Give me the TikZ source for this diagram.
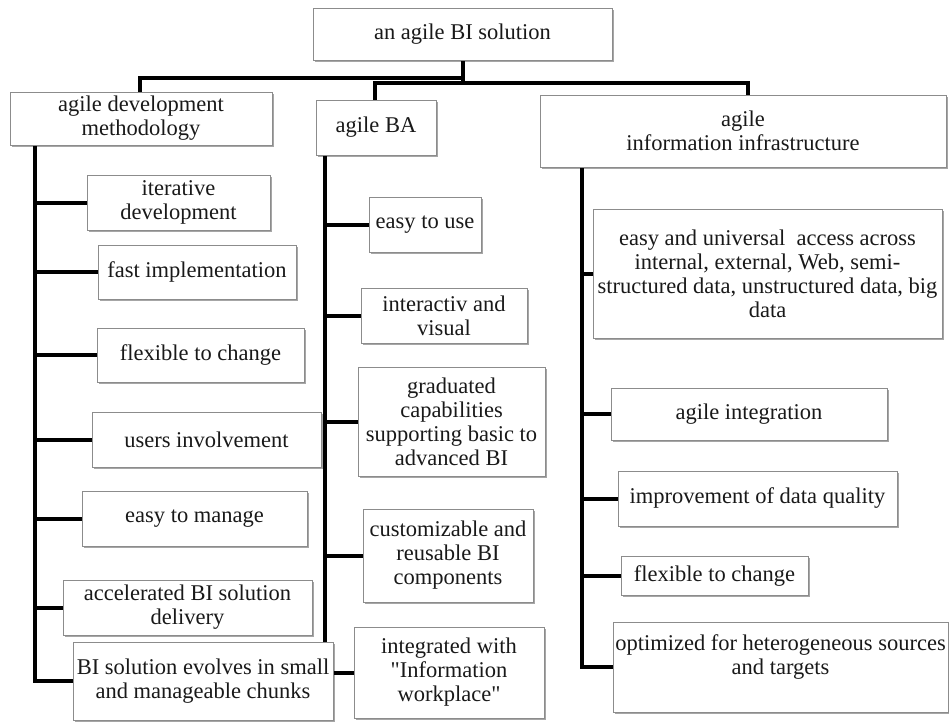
\documentclass[tikz,border=0pt]{standalone}
\usepackage{fontspec}
\setmainfont{Liberation Serif}[Ligatures=TeXOff]
\usetikzlibrary{shadows,backgrounds}
\newcommand\mybox[6]{\node[box,minimum width={#3-#2},minimum height={#5-#4}] (#1) at ({(#2+#3)/2},{(#4+#5)/2}) {#6};}
\begin{document}
\begin{tikzpicture}[x=1pt,y=-1pt,
  txt/.style={inner sep=0pt, align=center, font=\fontsize{22.5}{24}\selectfont, text=black!90},
  box/.style={txt, draw=black!45, line width=0.8pt, fill=white,
    drop shadow={shadow xshift=2pt, shadow yshift=-2pt, opacity=0.35, fill=black}},
  conn/.style={line width=4pt, line join=miter}]
\useasboundingbox (0,0) rectangle (949,722);
% level 0 and 1
\mybox{top}{313}{612}{8}{60}{an agile BI solution}
\mybox{ldm}{10}{272}{92}{145}{agile development\\methodology}
\mybox{ba}{316}{436}{100}{155}{agile BA}
\mybox{inf}{540}{946}{95}{167}{agile\\information infrastructure}
% left column
\mybox{l1}{87}{270}{175}{230}{iterative\\development}
\mybox{l2}{98}{296}{245}{299}{fast implementation}
\mybox{l3}{97}{304}{328}{382}{flexible to change}
\mybox{l4}{92}{321}{412}{467}{users involvement}
\mybox{l5}{82}{307}{491}{546}{easy to manage}
\mybox{l6}{63}{312}{580}{635}{accelerated BI solution\\delivery}
% middle column
\mybox{m1}{369}{481}{197}{252}{easy to use}
\mybox{m2}{361}{527}{288}{343}{interactiv and\\visual}
\mybox{m3}{358}{545}{367}{476}{graduated\\capabilities\\supporting basic to\\advanced BI}
\mybox{m4}{363}{533}{509}{602}{customizable and\\reusable BI\\components}
\mybox{m5}{354}{544}{627}{718}{integrated with\\"Information\\workplace"}
\mybox{l7}{73}{333}{642}{720}{BI solution evolves in small\\and manageable chunks}
% right column
\mybox{r1}{593}{942}{209}{338}{easy and universal\ \ access across\\internal, external, Web, semi-\\structured data, unstructured data, big\\data}
\mybox{r2}{611}{887}{388}{440}{agile integration}
\mybox{r3}{618}{897}{471}{526}{improvement of data quality}
\mybox{r4}{621}{808}{556}{595}{flexible to change}
\mybox{r5}{613}{948}{622}{712}{}
\node[txt] (r5t) at ([yshift=10pt]r5.center) {optimized for heterogeneous sources\\and targets};
% connectors
\begin{scope}[on background layer]
\coordinate (b1) at (462.5,78);
\coordinate (b2) at (462.5,83);
\draw[conn] (top.south) -- (b2);
\draw[conn] (b1) -| ([xshift=130pt]ldm.north west);
\draw[conn] ([xshift=59pt]ba.north west) |- (b2) -| ([xshift=208pt]inf.north west);
\foreach \c in {l1,l2,l3,l4,l5,l6,l7}
  \draw[conn] ([xshift=25pt]ldm.south west) |- (\c.west);
\foreach \c in {m1,m2,m3,m4,m5}
  \draw[conn] ([xshift=9pt]ba.south west) |- (\c.west);
\foreach \c in {r1,r2,r3,r4,r5}
  \draw[conn] ([xshift=42pt]inf.south west) |- (\c.west);
\end{scope}
\end{tikzpicture}
\end{document}
